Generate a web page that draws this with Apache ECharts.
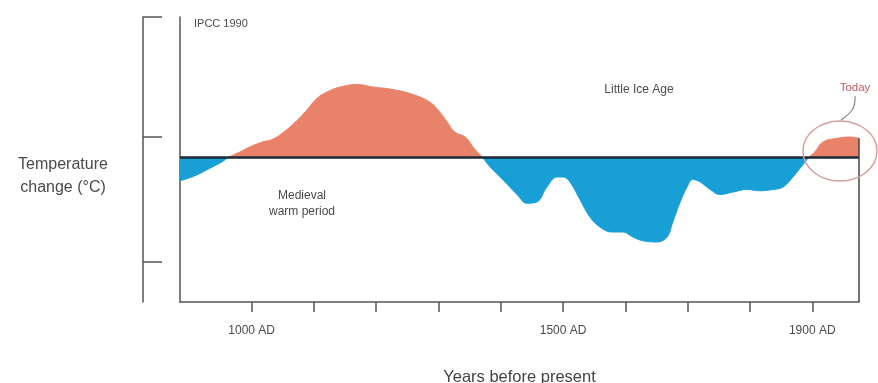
<!DOCTYPE html>
<html>
<head>
<meta charset="utf-8">
<script src="https://cdn.jsdelivr.net/npm/echarts@6/dist/echarts.min.js"></script>
<style>
  html, body { margin: 0; padding: 0; background: #fff; }
  #chart { width: 878px; height: 383px; }
</style>
</head>
<body>
<div id="chart"></div>
<script>
// schematic temperature curve, IPCC 1990 (values in arbitrary units, 0 = reference line)
const years = [885, 909, 933, 952, 964, 981, 997, 1017, 1033, 1049, 1066, 1086, 1105, 1121, 1142,
  1169, 1195, 1227, 1259, 1286, 1302, 1314, 1326, 1343, 1357, 1370, 1383, 1403, 1426, 1442,
  1458, 1474, 1490, 1500, 1511, 1527, 1543, 1559, 1578, 1596, 1612, 1628, 1651, 1667, 1676,
  1688, 1699, 1708, 1720, 1736, 1752, 1773, 1795, 1816, 1837, 1853, 1869, 1882, 1895, 1904,
  1917, 1940, 1961, 1975];
const anomaly = [-0.19, -0.15, -0.09, -0.04, 0, 0.04, 0.08, 0.12, 0.14, 0.19, 0.26, 0.36, 0.47, 0.52, 0.56,
  0.58, 0.56, 0.54, 0.5, 0.44, 0.36, 0.28, 0.2, 0.16, 0.07, 0, -0.08, -0.18, -0.3, -0.37,
  -0.36, -0.24, -0.16, -0.16, -0.2, -0.34, -0.48, -0.56, -0.6, -0.6, -0.64, -0.67, -0.68, -0.64, -0.52,
  -0.36, -0.24, -0.18, -0.2, -0.26, -0.3, -0.28, -0.26, -0.27, -0.26, -0.24, -0.16, -0.08, 0, 0.04,
  0.12, 0.15, 0.16, 0.15];

const tickYears = [1000, 1100, 1200, 1300, 1400, 1500, 1600, 1700, 1800, 1900];
const labelYears = [1000, 1500, 1900];
const yTicks = [1.12, 0.16, -0.84];

const WARM = "#e8836a";
const COLD = "#18a0d6";
const AXIS = "#555";

const chart = echarts.init(document.getElementById("chart"));
const lastYear = years[years.length - 1];
const lastVal = anomaly[anomaly.length - 1];

chart.setOption({
  animation: false,
  grid: { left: 180, right: 19, top: 17, bottom: 81, outerBoundsMode: "none", containLabel: false },
  xAxis: {
    type: "value",
    min: 885,
    max: 1975,
    axisLine: { show: true, onZero: false, lineStyle: { color: AXIS, width: 1.5 } },
    axisTick: { show: true, customValues: tickYears, length: 10, lineStyle: { color: AXIS, width: 1.5 } },
    axisLabel: {
      customValues: labelYears,
      formatter: function (v) { return v + " AD"; },
      color: "#4a4a4a",
      fontSize: 12,
      margin: 23,
      fontFamily: "Liberation Sans"
    },
    splitLine: { show: false },
    name: "Years before present",
    nameLocation: "middle",
    nameGap: 67,
    nameTextStyle: { color: "#444", fontSize: 16.5, fontFamily: "Liberation Sans" }
  },
  yAxis: [
    {
      type: "value",
      min: -1.16,
      max: 1.12,
      axisLine: { show: true, onZero: false, lineStyle: { color: AXIS, width: 1.5 } },
      axisTick: { show: false },
      axisLabel: { show: false },
      splitLine: { show: false }
    },
    {
      type: "value",
      position: "left",
      offset: 37,
      min: -1.16,
      max: 1.12,
      axisLine: { show: true, onZero: false, lineStyle: { color: AXIS, width: 1.5 } },
      axisTick: { show: true, inside: true, length: 19, customValues: yTicks, lineStyle: { color: AXIS, width: 1.5 } },
      axisLabel: { show: false },
      splitLine: { show: false }
    }
  ],
  visualMap: {
    type: "piecewise",
    show: false,
    dimension: 1,
    seriesIndex: 0,
    pieces: [
      { gt: 0, lte: 5, color: WARM },
      { gt: -5, lte: 0, color: COLD }
    ]
  },
  series: [
    {
      type: "line",
      data: years.map(function (y, i) { return [y, anomaly[i]]; }),
      smooth: 0.4,
      symbol: "none",
      lineStyle: { width: 1 },
      areaStyle: { opacity: 1 },
      markLine: {
        silent: true,
        symbol: "none",
        label: { show: false },
        data: [
          { yAxis: 0, lineStyle: { color: "#1c2a38", width: 2.5, type: "solid" } },
          [
            { coord: [lastYear, lastVal], lineStyle: { color: "#444", width: 1.5, type: "solid" } },
            { coord: [lastYear, -1.16] }
          ]
        ]
      }
    }
  ],
  graphic: [
    { type: "text", left: 194, top: 18, style: { text: "IPCC 1990", fill: "#4a4a4a", fontSize: 11, fontFamily: "Liberation Sans" } },
    {
      type: "text", x: 63, y: 176,
      style: {
        text: "Temperature\nchange (°C)", fill: "#4a4a4a", fontSize: 16, lineHeight: 23,
        align: "center", verticalAlign: "middle", fontFamily: "Liberation Sans"
      }
    },
    {
      type: "text", x: 302, y: 204,
      style: {
        text: "Medieval\nwarm period", fill: "#4a4a4a", fontSize: 12, lineHeight: 16,
        align: "center", verticalAlign: "middle", fontFamily: "Liberation Sans"
      }
    },
    {
      type: "text", x: 639, y: 90,
      style: { text: "Little Ice Age", fill: "#4a4a4a", fontSize: 12, align: "center", verticalAlign: "middle", fontFamily: "Liberation Sans" }
    },
    {
      type: "text", x: 855, y: 88,
      style: { text: "Today", fill: "#c45a60", fontSize: 11.5, align: "center", verticalAlign: "middle", fontFamily: "Liberation Sans" }
    },
    {
      type: "bezierCurve",
      shape: { x1: 855, y1: 96, cpx1: 856, cpy1: 110, cpx2: 849, cpy2: 114, x2: 841, y2: 120 },
      style: { stroke: "#888", lineWidth: 1.2, fill: null }
    },
    {
      type: "ellipse",
      shape: { cx: 840, cy: 151, rx: 37, ry: 30 },
      style: { stroke: "#d4a0a0", lineWidth: 1.5, fill: null },
      z: 10
    }
  ]
});
</script>
</body>
</html>
